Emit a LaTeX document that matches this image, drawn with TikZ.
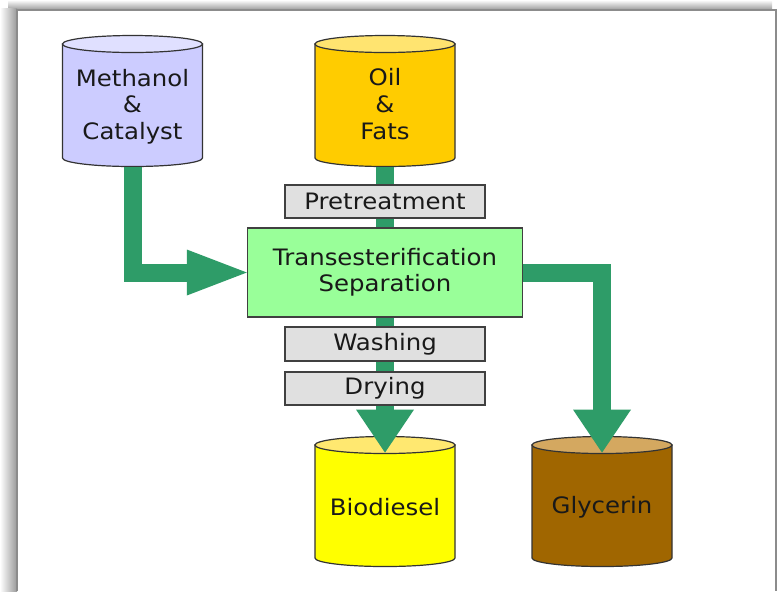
\documentclass[tikz,border=0pt]{standalone}
\usepackage{fontspec}
\setmainfont[FakeStretch=1.08]{DejaVu Sans}
\usetikzlibrary{arrows.meta}

\definecolor{pipegreen}{RGB}{46,156,104}
\definecolor{methbody}{RGB}{204,204,255}
\definecolor{methlid}{RGB}{224,224,255}
\definecolor{oilbody}{RGB}{255,204,0}
\definecolor{oillid}{RGB}{255,228,112}
\definecolor{biobody}{RGB}{255,255,0}
\definecolor{biolid}{RGB}{255,232,112}
\definecolor{glybody}{RGB}{160,102,0}
\definecolor{glylid}{RGB}{212,168,96}
\definecolor{stepgrey}{RGB}{224,224,224}
\definecolor{reactgreen}{RGB}{153,255,153}

\begin{document}
\begin{tikzpicture}[x=0.5pt, y=-0.5pt,
    font=\fontsize{11.3}{13.3}\selectfont,
    tanktext/.style={align=center, text=black!90, inner sep=0pt, minimum width=70pt},
    stepbox/.style={draw=black!75, line width=0.7pt, fill=stepgrey, text=black!90,
        minimum width=100pt, minimum height=16.5pt, inner sep=0pt},
    pipe/.style={draw=pipegreen, line width=9pt, line join=miter},
    downhead/.style={-{Triangle[width=29pt, length=21.5pt, line width=0pt]}}]
    \useasboundingbox (0,0) rectangle (779,591);
    % frame with shadow
    \shade[top color=white, bottom color=black!40] (8,0) rectangle (772,10);
    \shade[left color=white, right color=black!40] (0,8) rectangle (17,591);
    \fill[white] (17,10) rectangle (776,591);
    \draw[black!45, line width=1pt] (17,591) -- (17,10) -- (776,10) -- (776,591);
    % tanks
    \foreach \cx/\body/\lid/\ytop/\ybot in {132.5/methbody/methlid/44/158,
        385/oilbody/oillid/44/158, 385/biobody/biolid/445/558, 602/glybody/glylid/445/558}
    {
        \filldraw[fill=\body, draw=black!80, line width=0.6pt] (\cx-70,\ytop) -- (\cx-70,\ybot)
            arc[start angle=180, end angle=0, x radius=70, y radius=8.5] -- (\cx+70,\ytop) -- cycle;
        \filldraw[fill=\lid, draw=black!80, line width=0.6pt] (\cx,\ytop) ellipse[x radius=70, y radius=8.5];
    }
    \node[tanktext, minimum height=60.5pt] (meth) at (132.5,106.5) {Methanol\\\&\\Catalyst};
    \node[tanktext, minimum height=63pt] (oil) at (385,104) {Oil\\\&\\Fats};
    \node[tanktext, minimum height=54pt] (bio) at (385,507) {Biodiesel};
    \node[tanktext, minimum height=54pt] (gly) at (602,507) {Glycerin};
    % process steps
    \node[stepbox] (pre) at (385,201.5) {Pretreatment};
    \node[stepbox, fill=reactgreen, minimum width=137.5pt, minimum height=44.5pt,
        align=center, font=\fontsize{11.3}{13}\selectfont] (trans) at (385,272.5) {Transesterification\\Separation};
    \node[stepbox, minimum height=17pt] (wash) at (385,344) {Washing};
    \node[stepbox] (dry) at (385,388.5) {Drying};
    % flows
    \draw[pipe] (oil.south) -- (pre.north);
    \draw[pipe] (pre.south) -- (trans.north);
    \draw[pipe] (trans.south) -- (wash.north);
    \draw[pipe] (wash.south) -- (dry.north);
    \draw[pipe, downhead] (dry.south) -- (bio.north);
    \draw[pipe, downhead] (trans.east) -| (gly.north);
    \draw[pipe, -{Triangle[width=23pt, length=30pt, line width=0pt]}] (meth.south) |- (trans.west);
\end{tikzpicture}
\end{document}
